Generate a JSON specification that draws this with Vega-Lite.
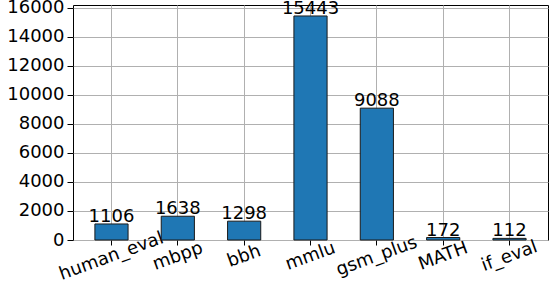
{
  "$schema": "https://vega.github.io/schema/vega-lite/v6.json",
  "autosize": {"type": "none"},
  "padding": {"left": 73, "top": 5, "right": 1, "bottom": 42},
  "width": 475,
  "height": 235,
  "background": "white",
  "config": {
    "view": {"stroke": "black", "strokeWidth": 1},
    "font": "DejaVu Sans",
    "axis": {
      "labelFont": "DejaVu Sans",
      "labelFontSize": 18,
      "labelColor": "black",
      "tickColor": "black",
      "domainColor": "black",
      "gridColor": "#b0b0b0",
      "gridWidth": 1,
      "title": null,
      "zindex": 1
    }
  },
  "data": {
    "values": [
      {"name": "human_eval", "count": 1106},
      {"name": "mbpp", "count": 1638},
      {"name": "bbh", "count": 1298},
      {"name": "mmlu", "count": 15443},
      {"name": "gsm_plus", "count": 9088},
      {"name": "MATH", "count": 172},
      {"name": "if_eval", "count": 112}
    ]
  },
  "encoding": {
    "x": {
      "field": "name",
      "type": "nominal",
      "sort": null,
      "scale": {"paddingInner": 0.5, "paddingOuter": 0.33},
      "axis": {
        "labelAngle": -20,
        "labelAlign": "center",
        "labelBaseline": "middle",
        "labelPadding": 11,
        "tickSize": 5,
        "grid": true,
        "domain": false
      }
    },
    "y": {
      "field": "count",
      "type": "quantitative",
      "scale": {"domain": [0, 16200], "nice": false},
      "axis": {
        "values": [0, 2000, 4000, 6000, 8000, 10000, 12000, 14000, 16000],
        "format": "d",
        "tickSize": 6,
        "labelPadding": 3,
        "grid": true,
        "domain": false
      }
    }
  },
  "layer": [
    {
      "mark": {"type": "bar", "color": "#1f77b4", "stroke": "#1a1a1a", "strokeWidth": 1}
    },
    {
      "mark": {"type": "text", "baseline": "alphabetic", "dy": -2, "fontSize": 18, "color": "black", "font": "DejaVu Sans"},
      "encoding": {"text": {"field": "count", "type": "quantitative", "format": "d"}}
    }
  ]
}
